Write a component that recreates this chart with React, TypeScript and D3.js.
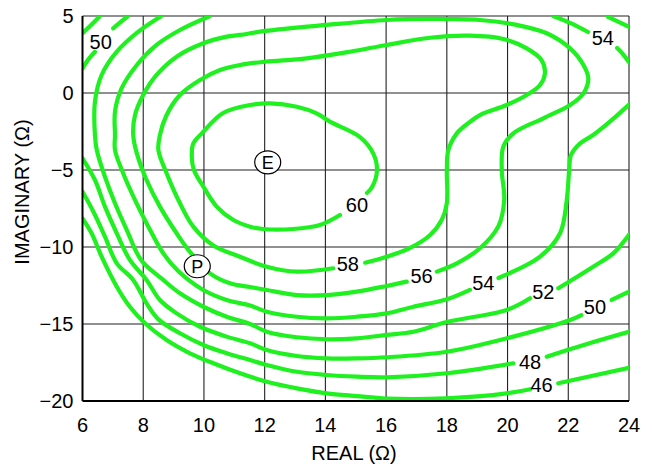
import React from "react";
import * as d3 from "d3";

type Pt = [number, number];

// Axis ticks
const xTicks = [6, 8, 10, 12, 14, 16, 18, 20, 22, 24];
const yTicks = [5, 0, -5, -10, -15, -20];

// Contour segments (real Ω, imaginary Ω); gaps in a contour leave room for its label
const c60: Pt[] = [
  [15.37, -6.49], [15.54, -6.1], [15.7, -5.0], [15.57, -3.9], [15.14, -2.86], [14.15, -1.86],
  [13.71, -1.32], [13.06, -0.89], [12.18, -0.67], [11.52, -0.78], [10.63, -1.3], [9.93, -2.62],
  [9.65, -3.27], [9.6, -4.14], [9.67, -5.0], [9.98, -6.08], [10.42, -7.38], [10.97, -8.25],
  [11.52, -8.68], [11.95, -8.83], [12.93, -8.83], [13.82, -8.57], [14.48, -7.92],
];
const c58: Pt[] = [
  [15.31, -11.02], [16.02, -10.63], [16.79, -10.06], [17.45, -9.22], [17.83, -8.25], [18.0, -7.16],
  [18.0, -5.0], [18.05, -3.7], [18.33, -2.62], [18.76, -1.88], [19.09, -1.43], [19.97, -0.78],
  [20.63, -0.13], [21.07, 0.52], [21.23, 1.28], [21.12, 2.14], [20.63, 2.9], [19.86, 3.51],
  [18.76, 3.72], [17.45, 3.59], [16.02, 3.12], [14.81, 2.68], [13.38, 2.25], [12.01, 2.03],
  [11.19, 1.82], [10.53, 1.49], [9.87, 0.84], [9.21, -0.13], [8.77, -1.43], [8.55, -2.73],
  [8.5, -3.7], [8.77, -5.21], [9.21, -7.16], [9.65, -8.68], [10.31, -9.9], [11.12, -10.58],
  [12.07, -11.28], [13.06, -11.6], [14.26, -11.38],
];
const c56: Pt[] = [
  [17.67, -11.6], [18.33, -11.06], [19.09, -10.08], [19.7, -8.64], [19.89, -6.95], [19.81, -5.0],
  [19.86, -3.49], [20.19, -2.62], [21.18, -1.64], [22.06, -0.78], [22.5, -0.02], [22.66, 0.95],
  [22.5, 1.82], [22.06, 2.9], [21.29, 3.88], [20.3, 4.42], [19.09, 4.74], [17.45, 4.81],
  [16.02, 4.74], [14.04, 4.42], [12.01, 4.03], [11.19, 3.77], [10.75, 3.66], [9.98, 3.23],
  [9.1, 2.36], [8.44, 1.17], [8.0, -0.13], [7.73, -1.43], [7.67, -2.73], [7.79, -3.92],
  [8.11, -5.65], [8.55, -7.38], [9.1, -9.11], [9.54, -10.32], [10.2, -11.71], [10.86, -12.36],
  [11.52, -12.6], [12.07, -12.79], [13.06, -13.12], [14.04, -13.12], [15.03, -12.9],
  [16.02, -12.53], [16.68, -12.25],
];
const c54a: Pt[] = [
  [10.2, 5.0], [9.21, 4.09], [8.44, 3.12], [7.79, 1.82], [7.29, 0.31], [7.07, -1.21], [7.07, -2.73],
  [7.07, -3.7], [7.34, -5.21], [7.73, -6.95], [8.17, -8.68], [8.66, -10.41], [9.15, -11.56],
  [9.98, -12.79], [10.75, -13.44], [11.52, -13.8], [12.07, -14.2], [13.06, -14.53], [14.04, -14.63],
  [15.03, -14.53], [16.02, -14.31], [16.9, -13.88], [18.0, -13.4], [18.76, -12.79],
];
const c54b: Pt[] = [
  [19.7, -12.01], [21.07, -10.63], [21.73, -9.11], [21.95, -6.95], [22.03, -5.0], [22.09, -4.03],
  [22.39, -3.27], [22.82, -2.73], [23.37, -1.86], [24.0, -0.75],
];
const c54c: Pt[] = [[21.5, 5.0], [22.06, 4.55], [22.65, 3.96]];
const c54d: Pt[] = [[23.61, 2.92], [23.8, 2.53], [24.0, 2.0]];
const c52a: Pt[] = [
  [8.6, 5.0], [7.84, 3.98], [7.13, 2.68], [6.63, 1.17], [6.41, -0.56], [6.41, -2.73], [6.47, -3.7],
  [6.74, -5.44], [7.07, -7.16], [7.46, -8.9], [7.93, -10.84], [8.66, -12.14], [9.21, -13.01],
  [9.98, -13.88], [10.75, -14.53], [11.52, -15.0], [12.07, -15.5], [13.06, -15.86], [14.04, -15.99],
  [15.03, -15.93], [16.02, -15.71], [16.9, -15.5], [18.0, -14.87], [19.97, -14.09], [20.74, -13.33],
];
const c52b: Pt[] = [[21.67, -12.68], [22.82, -11.28], [23.48, -10.41], [24.0, -9.2]];
const c52c: Pt[] = [[23.31, 4.94], [24.0, 4.29]];
const c50a: Pt[] = [[6.0, 1.6], [6.2, 2.2], [6.41, 2.68]];
const c50b: Pt[] = [[7.01, 4.2], [7.25, 4.6], [7.5, 5.0]];
const c50c: Pt[] = [
  [6.0, -4.24], [6.41, -5.65], [6.74, -7.38], [7.13, -9.11], [7.56, -10.84], [8.11, -12.14],
  [8.55, -13.44], [9.1, -14.31], [9.87, -15.18], [10.75, -15.82], [11.52, -16.25], [12.07, -16.69],
  [13.06, -17.08], [14.04, -17.23], [15.03, -17.23], [16.02, -17.16], [18.0, -16.8], [19.97, -15.93],
  [22.06, -14.74], [22.43, -14.42],
];
const c50d: Pt[] = [[23.43, -13.44], [24.0, -12.9]];
const c48a: Pt[] = [[6.0, 3.88], [6.3, 4.45], [6.58, 5.0]];
const c48b: Pt[] = [
  [6.0, -6.41], [6.36, -7.71], [6.74, -9.33], [7.13, -11.06], [7.67, -12.14], [8.11, -13.66],
  [8.5, -14.7], [9.21, -15.6], [9.98, -16.36], [10.75, -16.9], [11.52, -17.34], [12.07, -17.66],
  [13.06, -18.1], [14.04, -18.31], [15.03, -18.42], [16.02, -18.46], [18.0, -18.2], [20.19, -17.55],
];
const c48c: Pt[] = [[21.29, -17.12], [22.72, -16.23], [24.0, -15.5]];
const c46a: Pt[] = [
  [6.0, -8.14], [6.3, -9.11], [6.63, -10.63], [7.13, -12.58], [7.56, -13.88], [8.06, -14.95],
  [8.77, -16.04], [9.54, -16.9], [10.31, -17.55], [11.19, -18.2], [12.07, -18.75], [13.06, -19.18],
  [14.04, -19.5], [15.03, -19.68], [16.02, -19.84], [18.0, -19.82], [19.97, -19.5], [20.74, -19.24],
];
const c46b: Pt[] = [[21.67, -18.85], [24.0, -17.84]];

const contourSegments: Pt[][] = [
  c60, c58, c56, c54a, c54b, c54c, c54d, c52a, c52b, c52c,
  c50a, c50b, c50c, c50d, c48a, c48b, c48c, c46a, c46b,
];

// Contour value labels
const labelText = ["60", "58", "56", "54", "52", "50", "48", "46", "50", "54"];
const labelX = [15.04, 14.74, 17.17, 19.2, 21.18, 22.88, 20.74, 21.12, 6.6, 23.14];
const labelY = [-7.27, -11.1, -11.88, -12.36, -12.9, -13.88, -17.45, -18.98, 3.33, 3.54];

// Point markers
const markerText = ["E", "P"];
const markerX = [12.1, 9.78];
const markerY = [-4.5, -11.25];

const W = 652;
const H = 468;
const margin = { left: 82.5, right: 23, top: 16, bottom: 67 };

export default function App() {
  const x = d3.scaleLinear().domain([6, 24]).range([margin.left, W - margin.right]);
  const y = d3.scaleLinear().domain([-20, 5]).range([H - margin.bottom, margin.top]);
  const line = d3
    .line<Pt>()
    .x((d) => x(d[0]))
    .y((d) => y(d[1]))
    .curve(d3.curveCatmullRom.alpha(0.5));

  const font = "'Liberation Sans Narrow', 'Arial Narrow', 'Liberation Sans', Arial, sans-serif";
  const green = "#1ff01f";

  return (
    <svg
      width={W}
      height={H}
      style={{ position: "absolute", left: 0, top: 0, background: "#fff" }}
      fontFamily={font}
    >
      <defs>
        <clipPath id="plotClip">
          <rect x={x(6)} y={y(5)} width={x(24) - x(6)} height={y(-20) - y(5)} />
        </clipPath>
      </defs>

      {/* grid */}
      {xTicks.slice(1).map((t) => (
        <line key={"gx" + t} x1={x(t)} x2={x(t)} y1={y(5)} y2={y(-20)} stroke="#222" strokeWidth={1.1} />
      ))}
      {yTicks.slice(0, -1).map((t) => (
        <line key={"gy" + t} x1={x(6)} x2={x(24)} y1={y(t)} y2={y(t)} stroke="#222" strokeWidth={1.1} />
      ))}

      {/* contours */}
      <g clipPath="url(#plotClip)">
        {contourSegments.map((seg, i) => (
          <path
            key={"c" + i}
            d={line(seg) || ""}
            fill="none"
            stroke={green}
            strokeWidth={4.2}
            strokeLinecap="round"
            strokeLinejoin="round"
          />
        ))}
      </g>

      {/* axes */}
      <line x1={x(6)} x2={x(6)} y1={y(5)} y2={y(-20)} stroke="#000" strokeWidth={2} />
      <line x1={x(6)} x2={x(24)} y1={y(-20)} y2={y(-20)} stroke="#000" strokeWidth={2} />

      {/* contour labels */}
      {labelText.map((t, i) => (
        <text
          key={"l" + i}
          x={x(labelX[i])}
          y={y(labelY[i])}
          textAnchor="middle"
          dominantBaseline="central"
          fontSize={20}
          fill="#000"
        >
          {t}
        </text>
      ))}

      {/* markers */}
      {markerText.map((t, i) => (
        <g key={"m" + i}>
          <ellipse
            cx={x(markerX[i])}
            cy={y(markerY[i])}
            rx={13}
            ry={11.5}
            fill="#fff"
            stroke="#000"
            strokeWidth={1.2}
          />
          <text
            x={x(markerX[i])}
            y={y(markerY[i]) + 0.5}
            textAnchor="middle"
            dominantBaseline="central"
            fontSize={18}
            fill="#000"
          >
            {t}
          </text>
        </g>
      ))}

      {/* tick labels */}
      {xTicks.map((t) => (
        <text key={"tx" + t} x={x(t)} y={y(-20) + 24} textAnchor="middle" dominantBaseline="central" fontSize={20}>
          {t}
        </text>
      ))}
      {yTicks.map((t) => (
        <text key={"ty" + t} x={x(6) - 9} y={y(t)} textAnchor="end" dominantBaseline="central" fontSize={20}>
          {t < 0 ? "\u2212" + Math.abs(t) : String(t)}
        </text>
      ))}

      {/* axis titles */}
      <text x={354} y={453} textAnchor="middle" dominantBaseline="central" fontSize={20}>
        REAL (Ω)
      </text>
      <text
        transform={`translate(22, 192) rotate(-90)`}
        textAnchor="middle"
        dominantBaseline="central"
        fontSize={20}
      >
        IMAGINARY (Ω)
      </text>
    </svg>
  );
}
